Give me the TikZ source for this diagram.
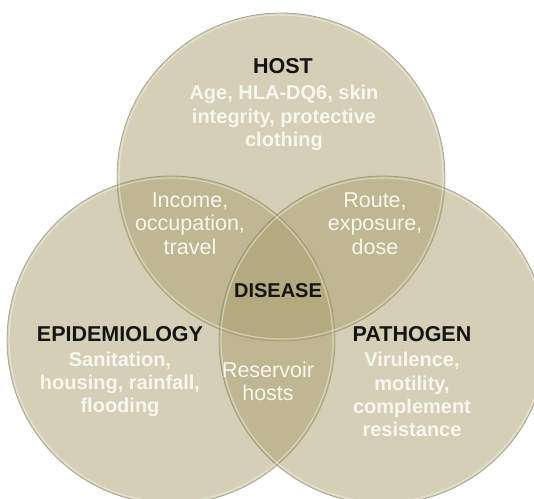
\documentclass[tikz,border=0pt]{standalone}
\usepackage{fontspec}
\setmainfont{Liberation Sans}
\usepackage{xcolor}
\usepackage{tikz}
\definecolor{khaki}{RGB}{170,160,110}
\definecolor{rimgray}{RGB}{145,140,115}
\definecolor{paper}{RGB}{248,246,238}
\tikzstyle{set}=[circle,inner sep=0pt,minimum size=328pt,fill=khaki,fill opacity=.5,draw=rimgray,draw opacity=.7,line width=.8pt]
\tikzstyle{rim}=[white,line width=1.2pt,opacity=.4]
\tikzstyle{title}=[inner sep=0pt,text=black!92,font=\fontsize{21.5}{24}\selectfont\bfseries]
\tikzstyle{factors}=[inner sep=0pt,align=center,text=paper,font=\fontsize{20}{23.3}\selectfont\bfseries]
\tikzstyle{shared}=[inner sep=0pt,align=center,text=paper,font=\fontsize{21.5}{23.5}\selectfont]

\begin{document}
\begin{tikzpicture}[x=1pt,y=-1pt]
	\useasboundingbox (0,0) rectangle (534,498);
	\fill[white] (0,0) rectangle (534,498);
	\clip (0,0) rectangle (534,498);
	% the three sets
	\node[set] (host) at (281,177) {};
	\node[set] (epi)  at (171,340) {};
	\node[set] (path) at (383,340) {};
	\foreach \c in {host,epi,path}
		\draw[rim] (\c.center) circle[radius=162pt];
	% set names and their factors
	\node[title]   (hostname) at (283,66)  {HOST};
	\node[factors] (hostlist) at (284,118) {Age, HLA-DQ6, skin\\integrity, protective\\clothing};
	\node[title]   (epiname)  at (120,334) {EPIDEMIOLOGY};
	\node[factors] (epilist)  at (120,384.5) {Sanitation,\\housing, rainfall,\\flooding};
	\node[title]   (pathname) at (412,334) {PATHOGEN};
	\node[factors] (pathlist) at (412,394.5) {Virulence,\\motility,\\complement\\resistance};
	% overlaps
	\node[shared] (hostepi)  at (190,223.5) {Income,\\occupation,\\travel};
	\node[shared] (hostpath) at (375,223.5) {Route,\\exposure,\\dose};
	\node[shared] (epipath)  at (268,381.5) {Reservoir\\hosts};
	\node[title,font=\fontsize{20}{24}\selectfont\bfseries] (disease) at (278,291) {DISEASE};
\end{tikzpicture}
\end{document}
